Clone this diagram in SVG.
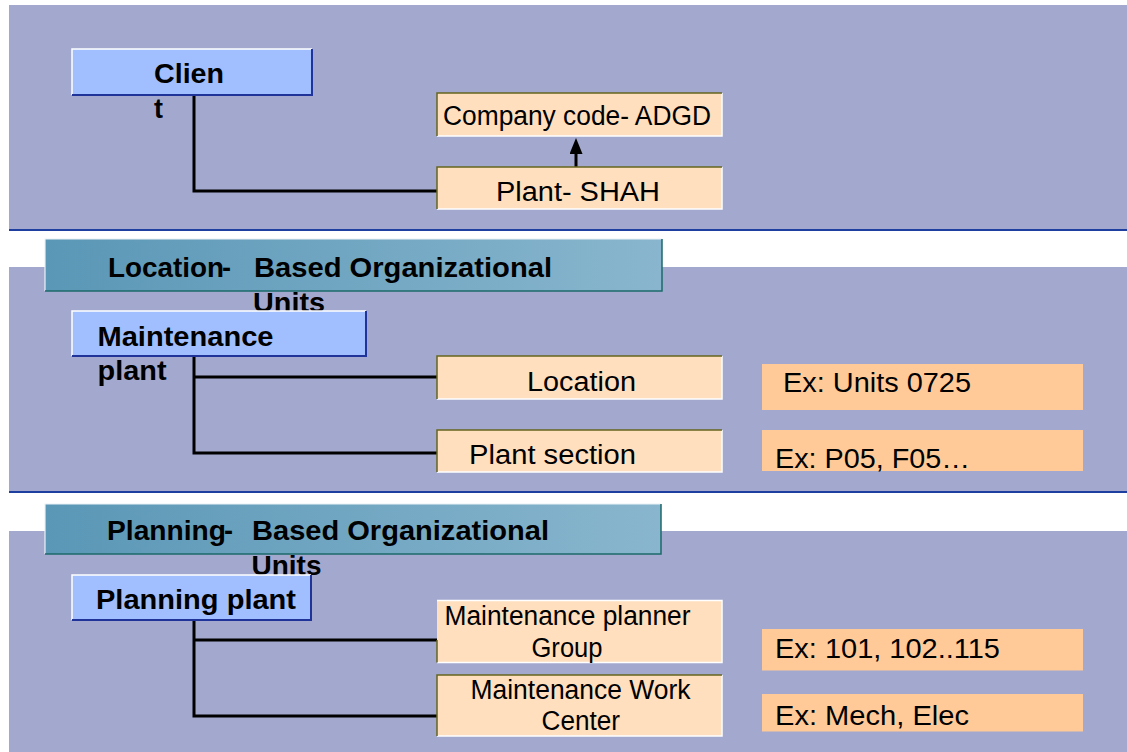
<svg xmlns="http://www.w3.org/2000/svg" width="1127" height="752" viewBox="0 0 1127 752">
  <defs>
    <linearGradient id="hdrGrad" x1="0" y1="0" x2="1" y2="0">
      <stop offset="0" stop-color="#5A97B6"/>
      <stop offset="1" stop-color="#89B6CE"/>
    </linearGradient>
    <marker id="arrowUp" viewBox="0 0 16 13" refX="4" refY="6.5" markerWidth="16" markerHeight="13" markerUnits="userSpaceOnUse" orient="auto">
      <path d="M0,0 L16,6.5 L0,13 Z" fill="#000"/>
    </marker>
    <style>
      .band { fill: #A3A9CE; }
      .rule { stroke: #1F3FA0; stroke-width: 2; }
      .hdr { fill: url(#hdrGrad); }
      .hdrHi { stroke: #EAF2F6; stroke-width: 1.2; fill: none; }
      .hdrLo { stroke: #1C6A6A; stroke-width: 1.5; fill: none; }
      .blue { fill: #A1BFFF; }
      .blueHi { stroke: #FFFFFF; stroke-width: 1.5; fill: none; }
      .blueLo { stroke: #1F3399; stroke-width: 2; fill: none; }
      .peach { fill: #FFDFBE; }
      .peachHi { stroke: #FFFFFF; stroke-width: 1.5; fill: none; }
      .peachLo { stroke: #66651E; stroke-width: 1.5; fill: none; }
      .ex { fill: #FFCA98; }
      .bold { font-family: "Liberation Sans", Arial, sans-serif; font-weight: bold; font-size: 27px; fill: #000; }
      .reg { font-family: "Liberation Sans", Arial, sans-serif; font-size: 27px; fill: #000; }
      .wire { stroke: #000; stroke-width: 3; fill: none; }
    </style>
  </defs>

  <rect width="1127" height="752" fill="#FFFFFF"/>

  <!-- section bands -->
  <rect class="band" x="9" y="5" width="1118" height="225"/>
  <line class="rule" x1="9" y1="230" x2="1127" y2="230"/>
  <rect class="band" x="9" y="267" width="1118" height="225"/>
  <line class="rule" x1="9" y1="492" x2="1127" y2="492"/>
  <rect class="band" x="9" y="531" width="1118" height="221"/>

  <!-- connectors -->
  <g id="connectors">
    <polyline class="wire" points="194,95 194,191 437,191"/>
    <line x1="576" y1="167" x2="576" y2="150" stroke="#000" stroke-width="3" marker-end="url(#arrowUp)"/>
    <polyline class="wire" points="194,356 194,453 437,453"/>
    <line class="wire" x1="194" y1="377" x2="437" y2="377"/>
    <polyline class="wire" points="194,620 194,716 437,716"/>
    <line class="wire" x1="194" y1="640" x2="437" y2="640"/>
  </g>

  <!-- top section -->
  <g id="client">
    <rect class="blue" x="72" y="49" width="240" height="46"/>
    <polyline class="blueHi" points="72,95 72,49 312,49"/>
    <polyline class="blueLo" points="312,49 312,95 72,95"/>
    <text class="bold" x="154" y="83" textLength="70" lengthAdjust="spacingAndGlyphs">Clien</text>
    <text class="bold" x="154" y="118">t</text>
  </g>

  <g id="company-code">
    <rect class="peach" x="437" y="93" width="285" height="43"/>
    <polyline class="peachHi" points="722,93 722,136 437,136"/>
    <polyline class="peachLo" points="437,136 437,93 722,93"/>
    <text class="reg" x="443" y="125" font-size="24" textLength="268" lengthAdjust="spacingAndGlyphs">Company code- ADGD</text>
  </g>

  <g id="plant">
    <rect class="peach" x="437" y="167" width="285" height="42"/>
    <polyline class="peachHi" points="722,167 722,209 437,209"/>
    <polyline class="peachLo" points="437,209 437,167 722,167"/>
    <text class="reg" x="496" y="201" textLength="164" lengthAdjust="spacingAndGlyphs">Plant- SHAH</text>
  </g>

  <!-- location-based section -->
  <g id="location-header">
    <rect class="hdr" x="45" y="239" width="617" height="52"/>
    <polyline class="hdrHi" points="45,291 45,239 662,239"/>
    <polyline class="hdrLo" points="662,239 662,291 45,291"/>
    <text class="bold" x="108" y="277" textLength="116" lengthAdjust="spacingAndGlyphs">Location</text>
    <text class="bold" x="222" y="277">-</text>
    <text class="bold" x="254" y="277" textLength="298" lengthAdjust="spacingAndGlyphs">Based Organizational</text>
    <text class="bold" x="253" y="312" textLength="72" lengthAdjust="spacingAndGlyphs">Units</text>
  </g>

  <g id="maintenance-plant">
    <rect class="blue" x="72" y="311" width="294" height="45"/>
    <polyline class="blueHi" points="72,356 72,311 366,311"/>
    <polyline class="blueLo" points="366,311 366,356 72,356"/>
    <text class="bold" x="97.5" y="346" textLength="176" lengthAdjust="spacingAndGlyphs">Maintenance</text>
    <text class="bold" x="97.5" y="380" textLength="69" lengthAdjust="spacingAndGlyphs">plant</text>
  </g>

  <g id="location">
    <rect class="peach" x="437" y="356" width="285" height="43"/>
    <polyline class="peachHi" points="722,356 722,399 437,399"/>
    <polyline class="peachLo" points="437,399 437,356 722,356"/>
    <text class="reg" x="527" y="391" textLength="109" lengthAdjust="spacingAndGlyphs">Location</text>
  </g>

  <g id="plant-section">
    <rect class="peach" x="437" y="430" width="285" height="42"/>
    <polyline class="peachHi" points="722,430 722,472 437,472"/>
    <polyline class="peachLo" points="437,472 437,430 722,430"/>
    <text class="reg" x="469" y="464" textLength="167" lengthAdjust="spacingAndGlyphs">Plant section</text>
  </g>

  <g id="ex-units">
    <rect class="ex" x="762" y="364" width="321" height="46"/>
    <text class="reg" x="783" y="392" textLength="188" lengthAdjust="spacingAndGlyphs">Ex: Units 0725</text>
  </g>

  <g id="ex-sections">
    <rect class="ex" x="762" y="430" width="321" height="41"/>
    <text class="reg" x="775" y="468" textLength="195" lengthAdjust="spacingAndGlyphs">Ex: P05, F05…</text>
  </g>

  <!-- planning-based section -->
  <g id="planning-header">
    <rect class="hdr" x="45" y="504" width="616" height="50"/>
    <polyline class="hdrHi" points="45,554 45,504 661,504"/>
    <polyline class="hdrLo" points="661,504 661,554 45,554"/>
    <text class="bold" x="107" y="540" textLength="119" lengthAdjust="spacingAndGlyphs">Planning</text>
    <text class="bold" x="224" y="540">-</text>
    <text class="bold" x="252" y="540" textLength="297" lengthAdjust="spacingAndGlyphs">Based Organizational</text>
    <text class="bold" x="251.5" y="575" textLength="70" lengthAdjust="spacingAndGlyphs">Units</text>
  </g>

  <g id="planning-plant">
    <rect class="blue" x="72" y="575" width="239" height="45"/>
    <polyline class="blueHi" points="72,620 72,575 311,575"/>
    <polyline class="blueLo" points="311,575 311,620 72,620"/>
    <text class="bold" x="96" y="608.5" textLength="200" lengthAdjust="spacingAndGlyphs">Planning plant</text>
  </g>

  <g id="planner-group">
    <rect class="peach" x="437" y="600.5" width="285" height="62"/>
    <polyline class="peachHi" points="437,600.5 722,600.5 722,662.5 437,662.5"/>
    <line class="peachLo" x1="437" y1="640" x2="437" y2="662.5"/>
    <text class="reg" x="444.5" y="625" font-size="24" textLength="246" lengthAdjust="spacingAndGlyphs">Maintenance planner</text>
    <text class="reg" x="531.5" y="656.5" font-size="24" textLength="71" lengthAdjust="spacingAndGlyphs">Group</text>
  </g>

  <g id="work-center">
    <rect class="peach" x="437" y="675" width="285" height="61"/>
    <polyline class="peachHi" points="722,675 722,736 437,736"/>
    <polyline class="peachLo" points="437,736 437,675 722,675"/>
    <text class="reg" x="470.5" y="698.5" font-size="24" textLength="220" lengthAdjust="spacingAndGlyphs">Maintenance Work</text>
    <text class="reg" x="541.5" y="730" font-size="24" textLength="78.5" lengthAdjust="spacingAndGlyphs">Center</text>
  </g>

  <g id="ex-planner">
    <rect class="ex" x="762" y="629" width="321" height="41.5"/>
    <text class="reg" x="775" y="658" textLength="225" lengthAdjust="spacingAndGlyphs">Ex: 101, 102..115</text>
  </g>

  <g id="ex-workcenter">
    <rect class="ex" x="762" y="694" width="321" height="37.5"/>
    <text class="reg" x="775" y="724.5" textLength="194" lengthAdjust="spacingAndGlyphs">Ex: Mech, Elec</text>
  </g>
</svg>
